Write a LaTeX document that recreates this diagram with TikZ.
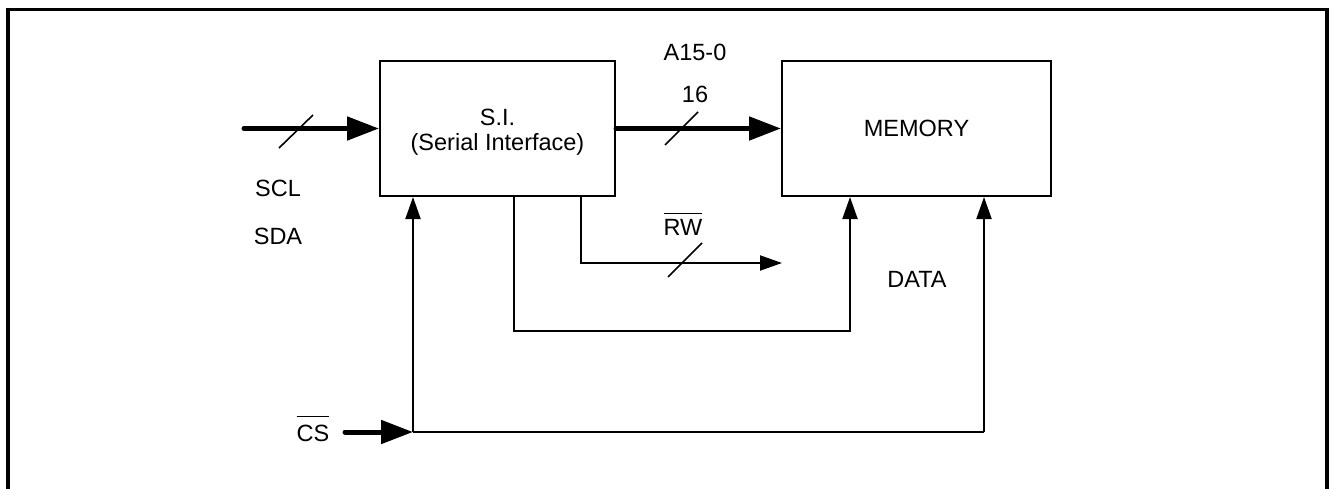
\documentclass[tikz,border=0pt]{standalone}
\usepackage{fontspec}
\setmainfont{Liberation Sans}
\usetikzlibrary{arrows.meta,calc}
\newcommand\ovbar[2]{\setbox0\hbox{#1}\rlap{\raisebox{\dimexpr\ht0+#2\relax}{\rule{\wd0}{1.3pt}}}\box0}
\begin{document}
\begin{tikzpicture}[x=1pt,y=-1pt,
  every node/.style={font=\fontsize{23.5}{28}\selectfont},
  blockbox/.style={draw,line width=2pt,minimum height=135pt,inner sep=0pt},
  thin/.style={line width=2pt},
  thinarrow/.style={line width=2pt,-{Triangle[length=22pt,width=15pt]}},
  busarrow/.style={line width=5pt,line cap=round,-{Triangle[length=32pt,width=23pt]}},
  slash/.style={line width=1.6pt},
  lbl/.style={inner sep=0pt}]
\useasboundingbox (0,0) rectangle (1329,488);
% frame
\draw[line width=3.5pt] (8,490) -- (8,9.5) -- (1327,9.5) -- (1327,490);
% blocks
\node[blockbox,minimum width=235pt,align=center] (si) at (497.5,128.5) {};
\node[lbl] (sit1) at (497.5,117) {S.I.};
\node[lbl] (sit2) at (497.5,144) {(Serial Interface)};
\node[blockbox,minimum width=269pt] (mem) at (916.5,128.5) {MEMORY};
% input bus
\coordinate (in) at (244,128.5);
\draw[busarrow] (in) -- (si.west);
\coordinate (s1a) at (279,148); \coordinate (s1b) at (313,115);
\draw[slash] (s1a) -- (s1b);
\node[lbl] (scl) at (278,188) {SCL};
\node[lbl] (sda) at (278,236) {SDA};
% address bus
\draw[busarrow] (si.east) -- (mem.west);
\coordinate (s2a) at (665,145); \coordinate (s2b) at (698,112);
\draw[slash] (s2a) -- (s2b);
\node[lbl] (addr) at (695,52) {A15-0};
\node[lbl] (w16) at (695,94) {16};
% RW
\coordinate (rwend) at (782,263);
\draw[thinarrow] ([xshift=83.5pt]si.south) |- (rwend);
\coordinate (s3a) at (668,277); \coordinate (s3b) at (702,243);
\draw[slash] (s3a) -- (s3b);
\node[lbl] (rw) at (683,224) {\ovbar{RW}{5pt}};
% data loop
\coordinate (loopb) at (513.5,331);
\draw[thinarrow] ([xshift=16pt]si.south) -- (loopb) -| ([xshift=-66.5pt]mem.south);
\node[lbl] (data) at (917,279) {DATA};
% CS
\coordinate (cs0) at (345,432);
\coordinate (csj) at (413,432);
\coordinate (csr) at (984,432);
\draw[busarrow] (cs0) -- (csj);
\draw[thin] (csj) -- (csr);
\draw[thinarrow] (csj) -- (csj |- si.south);
\draw[thinarrow] (csr) -- (csr |- mem.south);
\node[lbl] (cs) at (313,429) {\ovbar{CS}{8pt}};
\end{tikzpicture}
\end{document}
